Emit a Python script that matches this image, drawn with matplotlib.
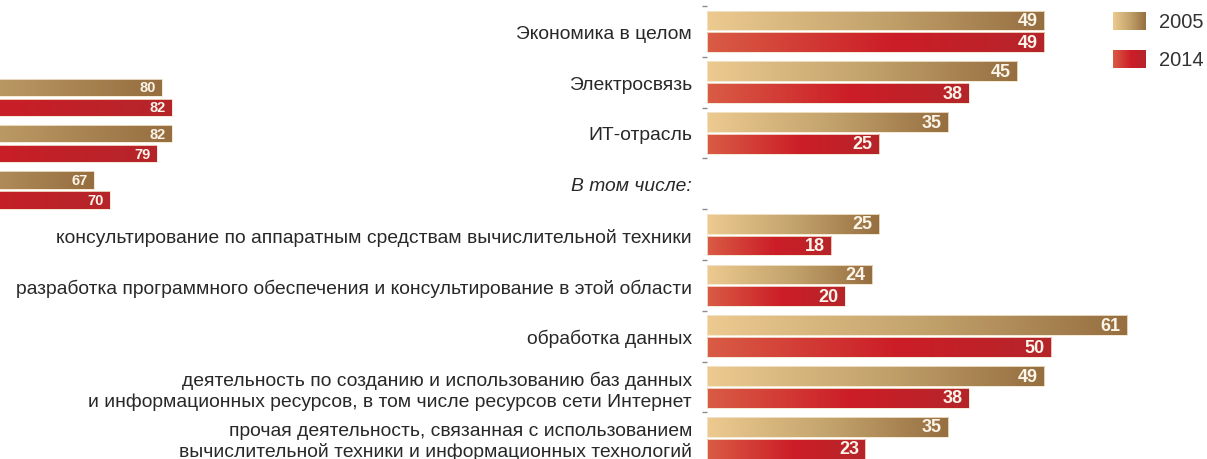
import numpy as np
import matplotlib
matplotlib.use('Agg')
import matplotlib.pyplot as plt
from matplotlib.colors import LinearSegmentedColormap

# ---------------- data ----------------
categories = [
    'Экономика в целом',
    'Электросвязь',
    'ИТ-отрасль',
    'В том числе:',
    'консультирование по аппаратным средствам вычислительной техники',
    'разработка программного обеспечения и консультирование в этой области',
    'обработка данных',
    'деятельность по созданию и использованию баз данных\nи информационных ресурсов, в том числе ресурсов сети Интернет',
    'прочая деятельность, связанная с использованием\nвычислительной техники и информационных технологий',
]
values_2005 = [49, 45, 35, np.nan, 25, 24, 61, 49, 35]
values_2014 = [49, 38, 25, np.nan, 18, 20, 50, 38, 23]

# partially visible neighbouring panel (left edge of picture)
left_2005 = [80, 82, 67]
left_2014 = [82, 79, 70]

series_labels = ['2005', '2014']

# ---------------- style ----------------
plt.rcParams['font.family'] = ['Liberation Sans', 'DejaVu Sans']
W, H = 1207, 460
fig = plt.figure(figsize=(W / 100, H / 100), dpi=100)

cmap_2005 = LinearSegmentedColormap.from_list(
    'c2005', [(0, '#ecca90'), (0.5, '#c4a46d'), (1, '#966e40')])
cmap_2014 = LinearSegmentedColormap.from_list(
    'c2014', [(0, '#d95c45'), (0.55, '#cc1d27'), (1, '#b5252a')])
TEXT_COL = '#282828'
VAL_COL = '#fbf4e8'


def px_axes(left, top, width, height):
    return fig.add_axes([left / W, 1 - (top + height) / H, width / W, height / H])


def gradient_bars(ax, bars, cmap):
    grad = np.linspace(0, 1, 256).reshape(1, -1)
    for p in bars:
        x0, y0 = p.get_x(), p.get_y()
        w, h = p.get_width(), p.get_height()
        if not np.isfinite(w) or w == 0:
            continue
        im = ax.imshow(grad, cmap=cmap, extent=[x0, x0 + w, y0, y0 + h],
                       aspect='auto', interpolation='bicubic', zorder=2)
        im.set_clip_path(p)
        p.set_facecolor('none')
        p.set_edgecolor('#f4e6cf')
        p.set_linewidth(0.6)
        p.set_zorder(3)


def value_labels(ax, ypos, vals, size):
    for y, v in zip(ypos, vals):
        if np.isfinite(v):
            ax.annotate(f'{v:.0f}', xy=(v, y), xytext=(-4.5, 0),
                        textcoords='offset points', ha='right', va='center',
                        color=VAL_COL, fontsize=size, fontweight='bold',
                        zorder=4)


# ---------------- main panel ----------------
ax = px_axes(706.7, 7, 70 * 6.89, 457.2)
rows = np.arange(len(categories))
off, bh = 0.215, 0.39
b1 = ax.barh(rows - off, values_2005, height=bh)
b2 = ax.barh(rows + off, values_2014, height=bh)
gradient_bars(ax, b1, cmap_2005)
gradient_bars(ax, b2, cmap_2014)
value_labels(ax, rows - off, values_2005, 13)
value_labels(ax, rows + off, values_2014, 13)

ax.set_xlim(0, 70)
ax.set_ylim(len(categories) - 0.5, -0.5)
for s in ax.spines.values():
    s.set_visible(False)
ax.set_xticks([])
ax.set_yticks(rows)
ax.set_yticklabels(categories, fontsize=13.9, color=TEXT_COL, linespacing=1.2)
ax.set_yticks(np.arange(-0.5, len(categories) + 0.5, 1), minor=True)
ax.tick_params(axis='y', which='major', length=0, pad=10.6)
ax.tick_params(axis='y', which='minor', length=3.6, width=1.0, color='#8c8c8c')
ax.get_yticklabels()[3].set_style('italic')
ax.patch.set_alpha(0)

# ---------------- partial left panel ----------------
axl = px_axes(-253.5, 75.05, 85 * 5.19, 139)
lrows = np.arange(len(left_2005))
loff, lbh = 0.216, 0.375
lb1 = axl.barh(lrows - loff, left_2005, height=lbh)
lb2 = axl.barh(lrows + loff, left_2014, height=lbh)
gradient_bars(axl, lb1, cmap_2005)
gradient_bars(axl, lb2, cmap_2014)
value_labels(axl, lrows - loff, left_2005, 10.5)
value_labels(axl, lrows + loff, left_2014, 10.5)
axl.set_xlim(0, 85)
axl.set_ylim(len(left_2005) - 0.5, -0.5)
axl.axis('off')

# ---------------- legend ----------------
grad = np.linspace(0, 1, 256).reshape(1, -1)
for (top, cmap, lab) in [(12.7, cmap_2005, series_labels[0]),
                         (50.5, cmap_2014, series_labels[1])]:
    la = px_axes(1112.7, top, 33, 18.5)
    la.imshow(grad, cmap=cmap, aspect='auto', interpolation='bicubic')
    la.axis('off')
    fig.text(1159 / W, 1 - (top + 9.5) / H, lab, ha='left', va='center',
             fontsize=14.5, color='#333333')

fig.savefig('out.png', dpi=100)
